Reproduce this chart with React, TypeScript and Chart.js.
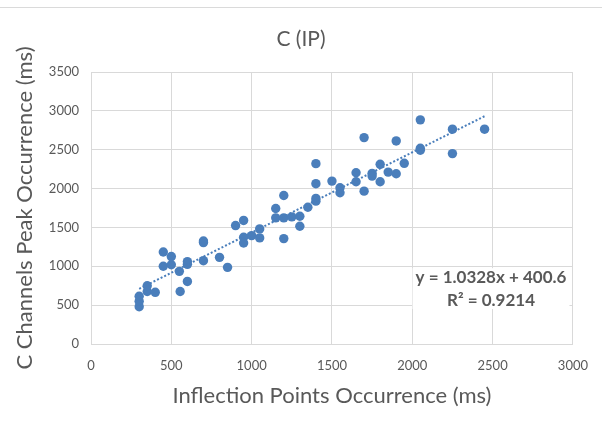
import React, { useEffect, useRef } from "react";
import { Chart, registerables } from "chart.js";

Chart.register(...registerables);

// ---- data ----
const xValues = [
  300, 300, 300, 350, 350, 400, 450, 450, 500, 500, 550, 555, 600, 600, 600,
  700, 700, 700, 800, 850, 900, 950, 950, 950, 1000, 1050, 1050, 1150, 1150,
  1200, 1200, 1200, 1250, 1300, 1300, 1350, 1400, 1400, 1400, 1400, 1500,
  1550, 1550, 1650, 1650, 1700, 1700, 1750, 1750, 1800, 1800, 1850, 1900,
  1900, 1950, 2050, 2050, 2050, 2250, 2250, 2450,
];
const yValues = [
  480, 550, 615, 676, 749, 665, 1000, 1184, 1020, 1125, 935, 676, 805, 1025, 1060,
  1072, 1305, 1325, 1115, 986, 1524, 1590, 1373, 1300, 1395, 1481, 1365, 1743, 1623,
  1911, 1623, 1356, 1636, 1644, 1515, 1760, 2321, 2063, 1873, 1838, 2096,
  2011, 1946, 2204, 2088, 2656, 1967, 2196, 2161, 2312, 2088, 2212, 2613,
  2191, 2325, 2884, 2518, 2493, 2764, 2450, 2764,
];
const trendSlope = 1.0328;
const trendIntercept = 400.6;
const rSquared = 0.9214;

const xMin = 0;
const xMax = 3000;
const xStep = 500;
const yMin = 0;
const yMax = 3500;
const yStep = 500;

const chartTitle = "C (IP)";
const xAxisTitle = "Inflection Points Occurrence (ms)";
const yAxisTitle = "C Channels Peak Occurrence (ms)";
const equationLabel = `y = ${trendSlope}x + ${trendIntercept}`;
const r2Label = `R² = ${rSquared}`;

// anchor of the equation label in data units
const labelAnchorX = 2490;
const labelAnchorY1 = 860;
const labelAnchorY2 = 565;

const BLUE = "#4a7ebb";
const GRAY_TEXT = "#595959";
const GRID = "#d9d9d9";
const FONT = "Lato, 'Open Sans', sans-serif";

const decorPlugin = {
  id: "decor",
  beforeDraw(chart: any) {
    const ctx = chart.ctx;
    ctx.save();
    ctx.fillStyle = "#ffffff";
    ctx.fillRect(0, 0, chart.width, chart.height);
    ctx.fillStyle = "#dadada";
    ctx.fillRect(0, 7, chart.width, 1);
    // chart title, centred on the whole chart
    ctx.fillStyle = GRAY_TEXT;
    ctx.font = `21px ${FONT}`;
    ctx.textAlign = "center";
    ctx.textBaseline = "middle";
    ctx.fillText(chartTitle, chart.width / 2, 39);
    ctx.restore();
  },
  afterDatasetsDraw(chart: any) {
    const ctx = chart.ctx;
    const xs = chart.scales.x;
    const ys = chart.scales.y;
    const cx = xs.getPixelForValue(labelAnchorX);
    const y1 = ys.getPixelForValue(labelAnchorY1);
    const y2 = ys.getPixelForValue(labelAnchorY2);
    ctx.save();
    ctx.font = `bold 17px ${FONT}`;
    const w = Math.max(ctx.measureText(equationLabel).width, ctx.measureText(r2Label).width);
    ctx.fillStyle = "#ffffff";
    ctx.fillRect(cx - w / 2 - 3, y1 - 9, w + 6, y2 - y1 + 18);
    ctx.fillStyle = GRAY_TEXT;
    ctx.textAlign = "center";
    ctx.textBaseline = "middle";
    ctx.fillText(equationLabel, cx, y1);
    ctx.fillText(r2Label, cx, y2);
    ctx.restore();
  },
};

export default function App() {
  const canvasRef = useRef<HTMLCanvasElement | null>(null);

  useEffect(() => {
    document.body.style.margin = "0";
    const canvas = canvasRef.current;
    if (!canvas) return;
    const points = xValues.map((x, i) => ({ x, y: yValues[i] }));
    const tx0 = Math.min(...xValues);
    const tx1 = Math.max(...xValues);
    const trend = [
      { x: tx0, y: trendSlope * tx0 + trendIntercept },
      { x: tx1, y: trendSlope * tx1 + trendIntercept },
    ];
    const chart = new Chart(canvas, {
      type: "scatter",
      data: {
        datasets: [
          {
            label: "trend",
            data: trend,
            showLine: true,
            borderColor: BLUE,
            borderWidth: 2,
            borderDash: [2, 2],
            pointRadius: 0,
            order: 0,
          } as any,
          {
            label: "points",
            data: points,
            backgroundColor: BLUE,
            borderWidth: 0,
            pointRadius: 4.7,
            order: 1,
          },
        ],
      },
      options: {
        animation: false,
        responsive: false,
        devicePixelRatio: 1,
        layout: { padding: { top: 72, right: 28, bottom: 0, left: 0 } },
        plugins: {
          legend: { display: false },
          tooltip: { enabled: false },
          title: { display: false },
        },
        scales: {
          x: {
            type: "linear",
            min: xMin,
            max: xMax,
            ticks: {
              stepSize: xStep,
              color: GRAY_TEXT,
              font: { family: FONT, size: 13 },
              padding: 14,
              callback: (v: any) => String(v),
            },
            grid: { color: GRID, drawTicks: false },
            border: { color: GRID },
            title: {
              display: true,
              text: xAxisTitle,
              color: GRAY_TEXT,
              font: { family: FONT, size: 22 },
              padding: { top: 4, bottom: 15 },
            },
            afterFit: (s: any) => {
              s.height = 80;
            },
          },
          y: {
            type: "linear",
            min: yMin,
            max: yMax,
            ticks: {
              stepSize: yStep,
              color: GRAY_TEXT,
              font: { family: FONT, size: 13 },
              padding: 12,
              callback: (v: any) => String(v),
            },
            grid: { color: GRID, drawTicks: false },
            border: { color: GRID },
            title: {
              display: true,
              text: yAxisTitle,
              color: GRAY_TEXT,
              font: { family: FONT, size: 22 },
              padding: { top: 12, bottom: 4 },
            },
            afterFit: (s: any) => {
              s.width = 91;
            },
          },
        },
      },
      plugins: [decorPlugin],
    });
    return () => chart.destroy();
  }, []);

  return (
    <div style={{ width: 602, height: 424 }}>
      <canvas ref={canvasRef} width={602} height={424} style={{ display: "block" }} />
    </div>
  );
}
